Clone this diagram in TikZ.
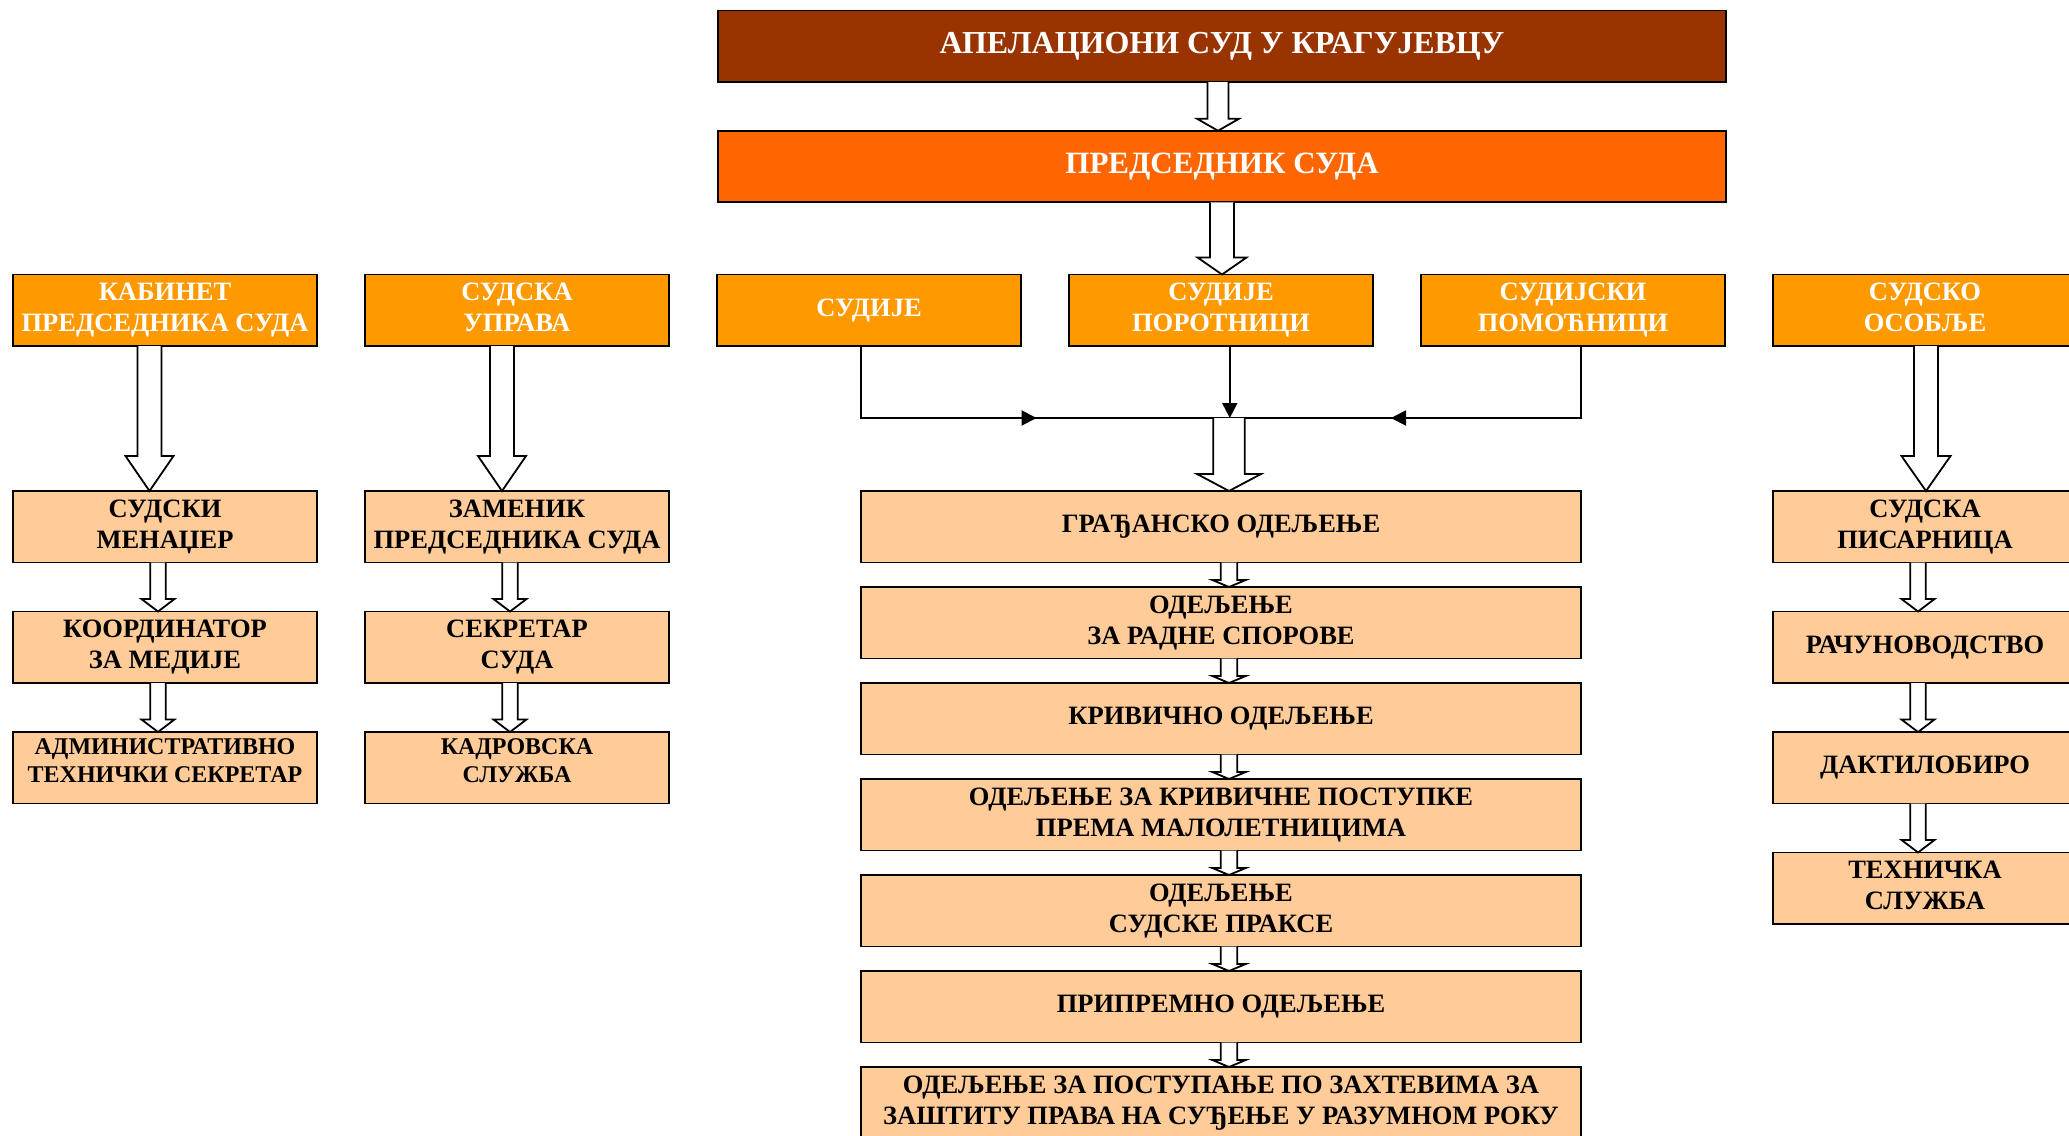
\documentclass[tikz,border=0pt]{standalone}
\usepackage{fontspec}
\setmainfont{Liberation Serif}
\usetikzlibrary{arrows.meta,positioning,calc}

\definecolor{courtbrown}{HTML}{993300}
\definecolor{presorange}{HTML}{FF6600}
\definecolor{headorange}{HTML}{FF9900}
\definecolor{unitpeach}{HTML}{FFCC99}

% hollow block arrow: from point, to node, x offset, shaft half width, head half width, head length
\newcommand{\hollowarrow}[6]{%
	\coordinate (ba-tip) at ($(#2.north)+(#3,0)$);
	\coordinate (ba-start) at (ba-tip |- #1);
	\draw[hollow] ($(ba-start)+(-#4,0)$) -- ($(ba-tip)+(-#4,-#6)$) -- ($(ba-tip)+(-#5,-#6)$) -- (ba-tip)
		-- ($(ba-tip)+(#5,-#6)$) -- ($(ba-tip)+(#4,-#6)$) -- ($(ba-start)+(#4,0)$);}

\begin{document}
\begin{tikzpicture}[x=1pt,y=-1pt]
	\tikzstyle{unit} = [draw,line width=1.8pt,outer sep=0pt,inner sep=0pt,minimum width=303.5pt,minimum height=71.5pt,align=center,fill=unitpeach,font=\bfseries\fontsize{26.5}{31}\selectfont,execute at end node={\rule[-6pt]{0pt}{0pt}}];
	\tikzstyle{head} = [unit,fill=headorange,text=white];
	\tikzstyle{wide} = [unit,minimum width=1008pt,text=white];
	\tikzstyle{small} = [font=\bfseries\fontsize{24}{27.5}\selectfont,execute at end node={\rule[-14pt]{0pt}{0pt}}];
	\tikzstyle{conn} = [line width=2pt];
	\tikzstyle{hollow} = [line width=1.8pt,fill=white,line join=miter];
	\useasboundingbox (0,0) rectangle (2069,1135);
	\clip (0,0) rectangle (2069,1135);
	\fill[white] (0,0) rectangle (2069,1135);
	% top
	\node at (1222,46.25) (apel) [wide,fill=courtbrown,font=\bfseries\fontsize{32}{36}\selectfont] {АПЕЛАЦИОНИ СУД У КРАГУЈЕВЦУ};
	\node (pred) [below=48.75pt of apel,wide,fill=presorange,font=\bfseries\fontsize{31}{36}\selectfont] {ПРЕДСЕДНИК СУДА};
	% heads
	\node at (165,310.25) (kab) [head] {КАБИНЕТ\\ПРЕДСЕДНИКА СУДА};
	\node (upr) [right=48.5pt of kab,head] {СУДСКА\\УПРАВА};
	\node (sud) [right=48.5pt of upr,head] {СУДИЈЕ};
	\node (por) [right=48.5pt of sud,head] {СУДИЈЕ\\ПОРОТНИЦИ};
	\node (pom) [right=48.5pt of por,head] {СУДИЈСКИ\\ПОМОЋНИЦИ};
	\node (oso) [right=48.5pt of pom,head] {СУДСКО\\ОСОБЉЕ};
	% left columns
	\node (men) [below=145pt of kab,unit] {СУДСКИ\\МЕНАЏЕР};
	\node (koo) [below=49pt of men,unit] {КООРДИНАТОР\\ЗА МЕДИЈЕ};
	\node (adm) [below=49pt of koo,unit,small] {АДМИНИСТРАТИВНО\\ТЕХНИЧКИ СЕКРЕТАР};
	\node (zam) [below=145pt of upr,unit] {ЗАМЕНИК\\ПРЕДСЕДНИКА СУДА};
	\node (sek) [below=49pt of zam,unit] {СЕКРЕТАР\\СУДА};
	\node (kad) [below=49pt of sek,unit,small] {КАДРОВСКА\\СЛУЖБА};
	% departments
	\node (gra) [below=145pt of por,unit,minimum width=720.5pt] {ГРАЂАНСКО ОДЕЉЕЊЕ};
	\node (rad) [below=24.5pt of gra,unit,minimum width=720.5pt] {ОДЕЉЕЊЕ\\ЗА РАДНЕ СПОРОВЕ};
	\node (kri) [below=24.5pt of rad,unit,minimum width=720.5pt] {КРИВИЧНО ОДЕЉЕЊЕ};
	\node (mal) [below=24.5pt of kri,unit,minimum width=720.5pt] {ОДЕЉЕЊЕ ЗА КРИВИЧНЕ ПОСТУПКЕ\\ПРЕМА МАЛОЛЕТНИЦИМА};
	\node (spr) [below=24.5pt of mal,unit,minimum width=720.5pt] {ОДЕЉЕЊЕ\\СУДСКЕ ПРАКСЕ};
	\node (pri) [below=24.5pt of spr,unit,minimum width=720.5pt] {ПРИПРЕМНО ОДЕЉЕЊЕ};
	\node (zah) [below=24.5pt of pri,unit,minimum width=720.5pt] {ОДЕЉЕЊЕ ЗА ПОСТУПАЊЕ ПО ЗАХТЕВИМА ЗА\\ЗАШТИТУ ПРАВА НА СУЂЕЊЕ У РАЗУМНОМ РОКУ};
	% staff
	\node (pis) [below=145pt of oso,unit] {СУДСКА\\ПИСАРНИЦА};
	\node (rac) [below=49pt of pis,unit] {РАЧУНОВОДСТВО};
	\node (dak) [below=49pt of rac,unit] {ДАКТИЛОБИРО};
	\node (teh) [below=49pt of dak,unit] {ТЕХНИЧКА\\СЛУЖБА};
	% judges bus
	\coordinate (bus) at (1229.8,418);
	\coordinate (tipl) at (1036.5,418);
	\coordinate (tipr) at (1391,418);
	\draw[conn] (sud.south -| gra.west) |- (bus) -| (pom.south -| gra.east);
	\draw[conn,-{Triangle[length=15pt,width=15pt]}] (bus -| gra.west) -- (tipl);
	\draw[conn,-{Triangle[length=15pt,width=15pt]}] (bus -| gra.east) -- (tipr);
	\draw[conn,-{Triangle[length=15pt,width=15pt]}] (por.south -| bus) -- (bus);
	% block arrows
	\hollowarrow{apel.south}{pred}{-4}{10.5}{21}{12}
	\hollowarrow{pred.south}{por}{1}{12}{24.5}{17}
	\hollowarrow{kab.south}{men}{-15.5}{12}{24}{35}
	\hollowarrow{upr.south}{zam}{-15}{12}{24}{35}
	\hollowarrow{oso.south}{pis}{1}{12}{24.5}{35}
	\hollowarrow{bus}{gra}{8}{15.7}{32}{17}
	\foreach \a/\b in {men/koo,koo/adm,zam/sek,sek/kad,pis/rac,rac/dak,dak/teh}
		{\hollowarrow{\a.south}{\b}{-7}{7.8}{16.5}{12.5}}
	\foreach \a/\b in {gra/rad,rad/kri,kri/mal,mal/spr,spr/pri,pri/zah}
		{\hollowarrow{\a.south}{\b}{8}{8.2}{16.7}{7}}
\end{tikzpicture}
\end{document}
